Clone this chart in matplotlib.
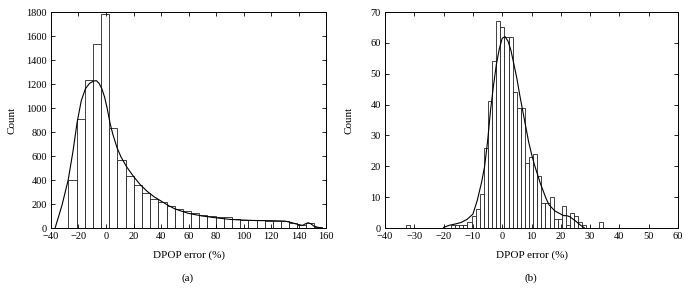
import numpy as np
import matplotlib
matplotlib.use("Agg")
import matplotlib.pyplot as plt

plt.rcParams['font.family'] = ['Liberation Serif', 'DejaVu Serif']

# panel (a): histogram, bins of ~5.95 starting at -27.4
a_start, a_width = -27.4, 5.95
a_counts = [400, 910, 1235, 1535, 1785, 830, 570, 435, 355, 290,
            241, 216, 186, 158, 139, 122, 111, 100, 94, 89,
            78, 70, 66, 63, 61, 61, 61, 39, 22, 44, 8]
# fitted curve
a_curve_x = [-37, -32, -27.5, -24, -21, -18, -15, -12, -9, -7, -5, -3, -1, 1, 3, 5, 8,
             11, 15, 20, 25, 30, 35, 40, 45, 50, 55, 60, 70, 80, 90, 100, 110, 120,
             130, 135, 140, 143, 145, 147, 149, 151, 154, 157]
a_curve_y = [0, 190, 400, 640, 880, 1060, 1160, 1205, 1225, 1228, 1205, 1160, 1090, 990,
             870, 780, 670, 590, 510, 430, 360, 305, 260, 225, 190, 160, 140, 122, 100,
             85, 72, 66, 62, 61, 58, 45, 28, 22, 35, 44, 35, 17, 6, 0]

# panel (b): histogram, bins of 1.4 starting at -32.85
b_start, b_width = -32.85, 1.4
b_counts = [1, 0, 0, 0, 0, 0, 0, 0, 0, 0,
            0, 1, 1, 1, 1, 2, 4, 6, 11, 26,
            41, 54, 67, 65, 62, 62, 44, 39, 39, 21,
            23, 24, 17, 8, 8, 10, 3, 3, 7, 1,
            5, 4, 2, 1, 0, 0, 0, 2]
b_curve_x = [-20, -18, -16, -14, -12, -10, -8.5, -7, -6, -5, -4, -3, -2, -1, 0, 1, 2, 3,
             4, 5, 6, 7, 8, 9, 10, 11, 12, 13, 14, 15, 16, 17, 18, 19, 20, 21, 22, 23,
             24, 25, 26, 27, 28]
b_curve_y = [0.2, 0.9, 1.3, 1.8, 2.8, 4.5, 9, 15, 20, 28, 38, 46, 53, 58, 61.5, 62, 60.5,
             57.5, 53, 48.5, 43, 38, 33, 28, 24, 20.5, 17.5, 14.5, 12, 9.5, 7.5, 6.5, 5.5,
             5, 4.5, 4, 4, 3.7, 3, 2.3, 1.5, 0.7, 0.1]

fig = plt.figure(figsize=(6.9, 2.88), dpi=100)
ax1 = fig.add_axes([0.0739, 0.2083, 0.3986, 0.75])
ax2 = fig.add_axes([0.558, 0.2083, 0.4246, 0.75])


def draw(ax, start, width, counts, cx, cy, xlim, ylim, xstep, ystep, ylab_x):
    lefts = start + width * np.arange(len(counts))
    ax.bar(lefts, counts, width=width, align='edge', facecolor='white',
           edgecolor='#222222', linewidth=0.6)
    ax.plot(cx, cy, color='black', linewidth=0.8)
    ax.set_xlim(*xlim)
    ax.set_ylim(*ylim)
    ax.set_xticks(np.arange(xlim[0], xlim[1] + 1, xstep))
    ax.set_yticks(np.arange(ylim[0], ylim[1] + 1, ystep))
    ax.tick_params(direction='in', top=True, right=True, length=3, width=0.6,
                   labelsize=7.5, pad=3)
    for s in ax.spines.values():
        s.set_linewidth(0.7)
    ax.set_xlabel('DPOP error (%)', fontsize=8)
    ax.set_ylabel('Count', fontsize=8)
    ax.xaxis.set_label_coords(0.5, -0.105)
    ax.yaxis.set_label_coords(ylab_x, 0.5)


draw(ax1, a_start, a_width, a_counts, a_curve_x, a_curve_y,
     (-40, 160), (0, 1800), 20, 200, -0.127)
draw(ax2, b_start, b_width, b_counts, b_curve_x, b_curve_y,
     (-40, 60), (0, 70), 10, 10, -0.109)

fig.text(0.2725, 0.035, '(a)', ha='center', va='center', fontsize=8)
fig.text(0.7695, 0.035, '(b)', ha='center', va='center', fontsize=8)

fig.savefig('out.png', dpi=100)
